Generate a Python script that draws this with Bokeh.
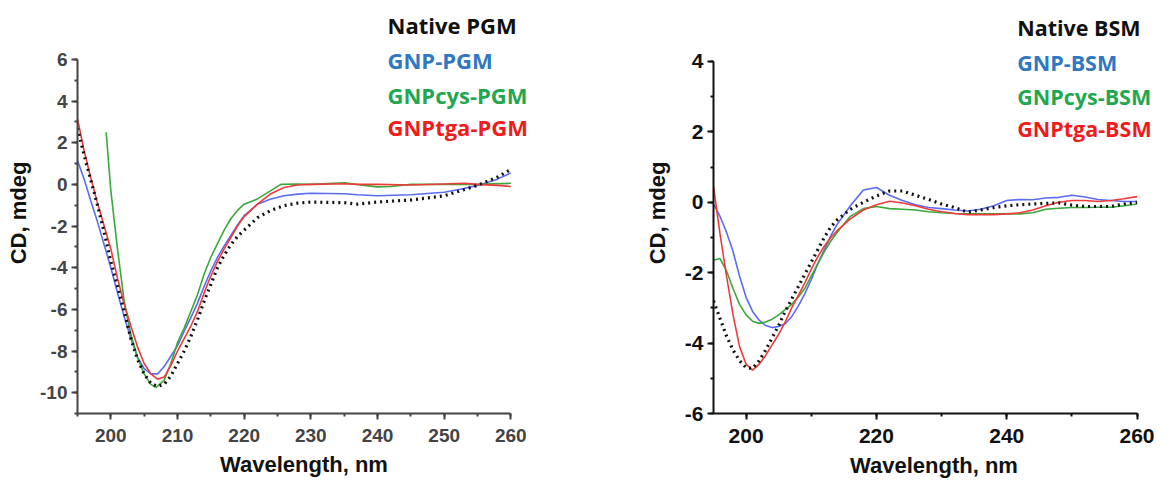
from bokeh.plotting import figure
from bokeh.models import SingleIntervalTicker, Label, Range1d, PrintfTickFormatter
from bokeh.layouts import row
from bokeh.embed import file_html
from bokeh.resources import INLINE

# ---------------- Left panel: PGM ----------------
pgm_x = [195, 196, 197, 198, 199, 200, 201, 202, 203, 204, 205, 206, 207, 208, 209, 210,
         211, 212, 213, 214, 215, 216, 217, 218, 219, 220, 222, 224, 226, 228, 230, 235,
         237, 240, 245, 250, 253, 255, 258, 260]
pgm_native = [2.7, 1.4, 0.2, -1.0, -2.3, -3.7, -4.9, -6.1, -7.4, -8.4, -9.1, -9.55, -9.7, -9.6,
              -9.2, -8.6, -8.0, -7.3, -6.5, -5.6, -4.8, -4.0, -3.4, -2.9, -2.5, -2.2, -1.6,
              -1.25, -1.02, -0.9, -0.85, -0.88, -0.95, -0.85, -0.75, -0.55, -0.25, -0.05, 0.35, 0.72]
pgm_gnp = [1.15, 0.25, -0.8, -1.8, -2.9, -4.0, -5.2, -6.35, -7.4, -8.3, -8.85, -9.1, -9.1, -8.75,
           -8.25, -7.75, -7.05, -6.4, -5.7, -4.9, -4.15, -3.5, -2.95, -2.45, -1.95, -1.5, -0.95,
           -0.7, -0.55, -0.47, -0.43, -0.45, -0.5, -0.55, -0.5, -0.38, -0.2, -0.05, 0.25, 0.55]
pgm_tga = [3.15, 1.6, 0.3, -0.9, -2.0, -3.1, -4.5, -5.75, -6.8, -7.8, -8.6, -9.1, -9.35, -9.25,
           -8.7, -8.0, -7.4, -6.8, -6.1, -5.2, -4.4, -3.7, -3.1, -2.55, -2.0, -1.55, -0.95,
           -0.45, -0.15, -0.03, 0.0, 0.03, 0.0, 0.0, -0.03, 0.02, 0.05, 0.0, -0.05, -0.1]
pgm_cys_x = [199.3, 200, 201, 202, 203, 204, 205, 206, 206.8, 208, 209, 210, 211, 212, 213, 214,
             215, 216, 217, 218, 219, 220, 222, 224, 225.5, 228, 230, 235, 238, 240, 242, 245,
             250, 255, 260]
pgm_cys = [2.5, -0.3, -3.1, -5.6, -7.2, -8.3, -9.1, -9.6, -9.75, -9.4, -8.6, -7.6, -6.9, -6.1,
           -5.3, -4.3, -3.5, -2.85, -2.2, -1.65, -1.25, -0.95, -0.7, -0.3, 0.0, 0.02, 0.0, 0.08,
           -0.05, -0.12, -0.1, 0.0, 0.0, 0.0, 0.05]

# ---------------- Right panel: BSM ----------------
bsm_x = [195, 196, 197, 198, 199, 200, 201, 202, 203, 204, 205, 206, 207, 208, 209, 210, 211,
         212, 213, 214, 216, 218, 220, 222, 224, 226, 228, 230, 232, 234, 236, 238, 240, 242,
         244, 246, 248, 250, 252, 254, 256, 258, 260]
bsm_native = [-2.8, -3.3, -3.8, -4.2, -4.5, -4.7, -4.72, -4.5, -4.2, -3.85, -3.5, -3.1, -2.75,
              -2.4, -2.05, -1.7, -1.35, -1.0, -0.7, -0.5, -0.2, 0.0, 0.18, 0.32, 0.32, 0.2, 0.08,
              -0.05, -0.15, -0.28, -0.22, -0.15, -0.1, -0.07, -0.05, -0.03, -0.02, -0.08, -0.12,
              -0.12, -0.12, -0.05, 0.0]
bsm_gnp = [-0.05, -0.4, -0.85, -1.4, -2.1, -2.7, -3.1, -3.35, -3.5, -3.56, -3.53, -3.45, -3.25,
           -2.95, -2.6, -2.2, -1.75, -1.35, -0.95, -0.62, -0.1, 0.35, 0.42, 0.2, 0.05, -0.07,
           -0.15, -0.18, -0.22, -0.25, -0.2, -0.1, 0.05, 0.08, 0.07, 0.12, 0.14, 0.2, 0.15, 0.08,
           0.05, 0.02, 0.02]
bsm_cys = [-1.65, -1.6, -1.95, -2.45, -2.9, -3.2, -3.38, -3.44, -3.4, -3.32, -3.2, -3.05, -2.9,
           -2.7, -2.45, -2.1, -1.75, -1.4, -1.1, -0.85, -0.4, -0.18, -0.12, -0.18, -0.2, -0.22,
           -0.27, -0.3, -0.32, -0.33, -0.33, -0.33, -0.33, -0.33, -0.3, -0.2, -0.17, -0.15,
           -0.15, -0.14, -0.14, -0.1, -0.05]
bsm_tga = [0.45, -0.9, -2.1, -3.2, -4.1, -4.6, -4.77, -4.6, -4.35, -4.05, -3.75, -3.4, -3.0,
           -2.65, -2.3, -1.9, -1.55, -1.25, -1.0, -0.8, -0.47, -0.22, -0.07, 0.03, -0.02, -0.1,
           -0.2, -0.27, -0.32, -0.35, -0.35, -0.35, -0.33, -0.3, -0.22, -0.1, 0.0, 0.05, 0.05,
           0.02, 0.05, 0.1, 0.16]

pgm_names = ["Native PGM", "GNP-PGM", "GNPcys-PGM", "GNPtga-PGM"]
bsm_names = ["Native BSM", "GNP-BSM", "GNPcys-BSM", "GNPtga-BSM"]
text_colors = ["#111111", "#2f78c4", "#1fa84f", "#f01c1c"]
line_colors = ["#111111", "#5a6cf2", "#3aa83a", "#f03a3a"]

pgm_legend_x = 241.5
pgm_legend_y = [7.65, 5.95, 4.3, 2.75]
bsm_legend_x = 241.6
bsm_legend_y = [4.96, 3.97, 2.99, 2.1]

TICK_FONT = "Liberation Sans"
TITLE_FONT = "Liberation Sans"
LEG_FONT = "Open Sans"


def make_panel(xr, yr, y_bounds, x_interval, borders, frame, tick_size, axis_col, ylab_standoff):
    bl, br, bt, bb = borders
    fw, fh = frame
    p = figure(x_range=Range1d(*xr), y_range=Range1d(*yr),
               frame_width=fw, frame_height=fh,
               min_border_left=bl, min_border_right=br, min_border_top=bt, min_border_bottom=bb,
               output_backend="svg", toolbar_location=None)
    p.xgrid.visible = False
    p.ygrid.visible = False
    p.outline_line_color = None
    p.xaxis.ticker = SingleIntervalTicker(interval=x_interval, num_minor_ticks=2)
    p.yaxis.ticker = SingleIntervalTicker(interval=2, num_minor_ticks=2)
    p.yaxis.formatter = PrintfTickFormatter(format="%d")
    p.xaxis.bounds = (195, 260)
    p.yaxis.bounds = y_bounds
    for ax in (p.xaxis[0], p.yaxis[0]):
        ax.axis_line_width = 2
        ax.axis_line_color = axis_col
        ax.major_tick_line_color = axis_col
        ax.minor_tick_line_color = axis_col
        ax.major_tick_line_width = 2
        ax.minor_tick_line_width = 2
        ax.major_tick_in = 0
        ax.major_tick_out = 6
        ax.minor_tick_in = 0
        ax.minor_tick_out = 3
        ax.major_label_text_font = TICK_FONT
        ax.major_label_text_font_style = "bold"
        ax.major_label_text_font_size = tick_size
        ax.major_label_text_color = axis_col
        ax.axis_label_text_font = TITLE_FONT
        ax.axis_label_text_font_style = "bold"
        ax.axis_label_text_font_size = "22px"
        ax.axis_label_text_color = "#111111"
    p.xaxis.major_label_standoff = 9
    p.yaxis.major_label_standoff = 4
    p.xaxis.axis_label = "Wavelength, nm"
    p.yaxis.axis_label = "CD, mdeg"
    p.xaxis.axis_label_standoff = 7
    p.yaxis.axis_label_standoff = ylab_standoff
    return p


left = make_panel((195, 262.95), (-11, 8.25), (-11, 6), 10,
                  (77, 70, 12, 62), (453, 401), "19px", "#444444", 6)
right = make_panel((195, 262.67), (-6, 5.39), (-6, 4), 20,
                   (113, 0, 12, 62), (441, 401), "21px", "#111111", 12)

# curves: blue, green, red, then native dotted on top
left.line(pgm_x, pgm_gnp, line_color=line_colors[1], line_width=1.6)
left.line(pgm_cys_x, pgm_cys, line_color=line_colors[2], line_width=1.6)
left.line(pgm_x, pgm_tga, line_color=line_colors[3], line_width=1.6)
left.line(pgm_x, pgm_native, line_color=line_colors[0], line_width=3.2, line_dash="2 4")

right.line(bsm_x, bsm_gnp, line_color=line_colors[1], line_width=1.6)
right.line(bsm_x, bsm_cys, line_color=line_colors[2], line_width=1.6)
right.line(bsm_x, bsm_tga, line_color=line_colors[3], line_width=1.6)
right.line(bsm_x, bsm_native, line_color=line_colors[0], line_width=3.2, line_dash="2 4")

for name, col, yv in zip(pgm_names, text_colors, pgm_legend_y):
    left.add_layout(Label(x=pgm_legend_x, y=yv, text=name, text_color=col,
                          text_font=LEG_FONT, text_font_style="bold", text_font_size="22px",
                          text_baseline="middle", text_align="left"))
for name, col, yv in zip(bsm_names, text_colors, bsm_legend_y):
    right.add_layout(Label(x=bsm_legend_x, y=yv, text=name, text_color=col,
                           text_font=LEG_FONT, text_font_style="bold", text_font_size="21.5px",
                           text_baseline="middle", text_align="left"))

layout = row(left, right)
open("out.html", "w").write(file_html(layout, INLINE))
